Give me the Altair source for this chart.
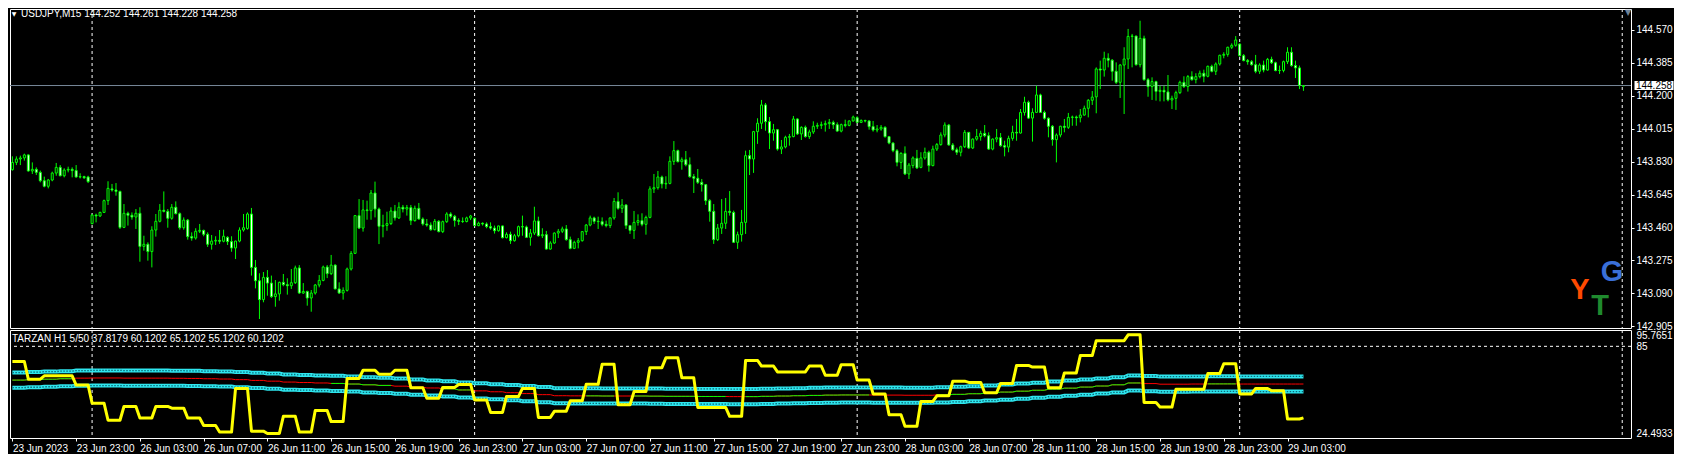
import altair as alt
import pandas as pd

# ---------------- data (USDJPY M15, bar 1 = 23 Jun 19:00) ----------------
OPEN = [
143.785, 143.826, 143.845, 143.851, 143.868, 143.778, 143.787, 143.770, 143.723, 143.692,
143.727, 143.766, 143.798, 143.751, 143.783, 143.787, 143.780, 143.744, 143.746, 143.744,
143.482, 143.530, 143.525, 143.545, 143.611, 143.677, 143.671, 143.663, 143.461, 143.540,
143.529, 143.519, 143.540, 143.354, 143.366, 143.325, 143.446, 143.495, 143.557, 143.551,
143.512, 143.574, 143.538, 143.459, 143.502, 143.409, 143.401, 143.439, 143.444, 143.422,
143.366, 143.384, 143.388, 143.383, 143.405, 143.381, 143.345, 143.384, 143.446, 143.455,
143.536, 143.236, 143.161, 143.055, 143.180, 143.148, 143.072, 143.087, 143.152, 143.139,
143.133, 143.150, 143.233, 143.092, 143.101, 143.064, 143.092, 143.137, 143.163, 143.238,
143.201, 143.249, 143.115, 143.092, 143.107, 143.227, 143.315, 143.527, 143.457, 143.559,
143.555, 143.654, 143.564, 143.467, 143.472, 143.482, 143.553, 143.514, 143.574, 143.564,
143.572, 143.499, 143.568, 143.508, 143.480, 143.474, 143.448, 143.495, 143.437, 143.493,
143.536, 143.523, 143.500, 143.495, 143.494, 143.514, 143.512, 143.471, 143.484, 143.480,
143.465, 143.457, 143.442, 143.469, 143.403, 143.422, 143.386, 143.414, 143.465, 143.463,
143.405, 143.429, 143.497, 143.414, 143.420, 143.339, 143.373, 143.429, 143.439, 143.452,
143.392, 143.343, 143.377, 143.386, 143.437, 143.474, 143.514, 143.495, 143.493, 143.478,
143.471, 143.514, 143.607, 143.568, 143.587, 143.471, 143.444, 143.489, 143.499, 143.478,
143.517, 143.677, 143.684, 143.744, 143.705, 143.708, 143.832, 143.892, 143.830, 143.841,
143.813, 143.746, 143.737, 143.714, 143.701, 143.611, 143.551, 143.392, 143.457, 143.484,
143.551, 143.545, 143.377, 143.420, 143.489, 143.864, 143.845, 143.999, 144.046, 144.149,
144.055, 143.991, 144.010, 143.901, 143.913, 143.967, 143.971, 144.070, 143.986, 144.023,
143.971, 143.997, 144.029, 144.034, 144.038, 144.044, 144.051, 144.038, 144.002, 144.038,
144.034, 144.059, 144.077, 144.051, 144.061, 144.059, 144.027, 144.008, 144.014, 144.023,
143.971, 143.935, 143.892, 143.826, 143.877, 143.761, 143.808, 143.849, 143.798, 143.851,
143.883, 143.808, 143.901, 143.926, 143.980, 144.036, 143.924, 143.897, 143.883, 143.914,
143.995, 143.907, 143.957, 143.971, 143.989, 143.976, 143.901, 143.957, 143.965, 143.920,
143.912, 143.961, 143.995, 143.991, 144.107, 144.164, 144.075, 144.107, 144.205, 144.107,
144.074, 144.029, 143.954, 143.980, 144.029, 144.023, 144.079, 144.081, 144.077, 144.092,
144.130, 144.175, 144.194, 144.351, 144.345, 144.411, 144.400, 144.338, 144.276, 144.373,
144.407, 144.534, 144.536, 144.375, 144.523, 144.291, 144.252, 144.280, 144.225, 144.231,
144.222, 144.177, 144.186, 144.218, 144.276, 144.252, 144.308, 144.291, 144.308, 144.327,
144.310, 144.366, 144.338, 144.379, 144.428, 144.433, 144.473, 144.484, 144.491, 144.426,
144.398, 144.392, 144.375, 144.338, 144.373, 144.345, 144.405, 144.386, 144.342, 144.343,
144.392, 144.445, 144.370, 144.357, 144.252,
]
HIGH = [
143.860, 143.860, 143.864, 143.875, 143.871, 143.826, 143.798, 143.780, 143.746, 143.733,
143.774, 143.823, 143.811, 143.793, 143.802, 143.798, 143.811, 143.765, 143.751, 143.751,
143.536, 143.538, 143.549, 143.617, 143.720, 143.705, 143.710, 143.667, 143.592, 143.549,
143.545, 143.564, 143.574, 143.414, 143.377, 143.467, 143.536, 143.592, 143.663, 143.564,
143.592, 143.607, 143.545, 143.517, 143.508, 143.433, 143.456, 143.480, 143.448, 143.433,
143.418, 143.411, 143.446, 143.448, 143.411, 143.411, 143.386, 143.461, 143.536, 143.545,
143.570, 143.278, 143.203, 143.210, 143.221, 143.190, 143.165, 143.156, 143.199, 143.175,
143.227, 143.246, 143.249, 143.148, 143.105, 143.109, 143.143, 143.193, 143.246, 143.249,
143.306, 143.253, 143.152, 143.124, 143.235, 143.328, 143.530, 143.620, 143.615, 143.611,
143.671, 143.718, 143.572, 143.532, 143.549, 143.574, 143.587, 143.602, 143.587, 143.587,
143.587, 143.583, 143.598, 143.517, 143.508, 143.489, 143.508, 143.502, 143.499, 143.546,
143.546, 143.531, 143.512, 143.517, 143.521, 143.531, 143.517, 143.493, 143.489, 143.489,
143.489, 143.471, 143.471, 143.471, 143.433, 143.437, 143.424, 143.471, 143.527, 143.471,
143.452, 143.577, 143.521, 143.456, 143.441, 143.383, 143.433, 143.452, 143.465, 143.474,
143.409, 143.386, 143.401, 143.439, 143.480, 143.527, 143.521, 143.521, 143.517, 143.499,
143.517, 143.626, 143.658, 143.620, 143.590, 143.474, 143.553, 143.534, 143.540, 143.527,
143.692, 143.761, 143.778, 143.752, 143.748, 143.860, 143.946, 143.898, 143.854, 143.890,
143.854, 143.761, 143.789, 143.733, 143.705, 143.620, 143.592, 143.480, 143.620, 143.626,
143.665, 143.555, 143.437, 143.559, 143.892, 143.896, 144.003, 144.074, 144.177, 144.160,
144.081, 144.042, 144.014, 143.952, 143.976, 143.986, 144.087, 144.074, 144.029, 144.033,
144.010, 144.057, 144.049, 144.055, 144.061, 144.070, 144.061, 144.051, 144.044, 144.066,
144.062, 144.089, 144.085, 144.068, 144.066, 144.062, 144.059, 144.036, 144.036, 144.029,
143.971, 143.939, 143.901, 143.883, 143.916, 143.823, 143.860, 143.896, 143.883, 143.909,
143.892, 143.920, 143.935, 143.995, 144.051, 144.042, 143.935, 143.909, 143.920, 144.008,
143.995, 143.961, 144.014, 144.004, 144.036, 143.995, 143.961, 144.014, 143.991, 143.948,
143.976, 144.032, 144.070, 144.126, 144.195, 144.173, 144.130, 144.257, 144.212, 144.117,
144.079, 144.036, 143.989, 144.032, 144.070, 144.104, 144.089, 144.089, 144.126, 144.145,
144.182, 144.227, 144.360, 144.398, 144.448, 144.439, 144.407, 144.388, 144.379, 144.473,
144.576, 144.548, 144.538, 144.622, 144.538, 144.300, 144.304, 144.285, 144.257, 144.257,
144.317, 144.201, 144.229, 144.285, 144.310, 144.317, 144.338, 144.327, 144.342, 144.347,
144.370, 144.375, 144.388, 144.431, 144.445, 144.476, 144.495, 144.536, 144.495, 144.435,
144.407, 144.401, 144.430, 144.383, 144.398, 144.413, 144.420, 144.392, 144.370, 144.398,
144.473, 144.473, 144.398, 144.370, 144.261,
]
LOW = [
143.780, 143.811, 143.811, 143.836, 143.774, 143.761, 143.755, 143.714, 143.686, 143.680,
143.720, 143.751, 143.748, 143.742, 143.770, 143.742, 143.740, 143.736, 143.733, 143.710,
143.478, 143.489, 143.519, 143.542, 143.587, 143.662, 143.639, 143.452, 143.457, 143.471,
143.504, 143.452, 143.268, 143.330, 143.274, 143.236, 143.409, 143.489, 143.545, 143.459,
143.504, 143.534, 143.448, 143.448, 143.392, 143.386, 143.392, 143.429, 143.411, 143.351,
143.336, 143.362, 143.368, 143.377, 143.362, 143.324, 143.283, 143.377, 143.437, 143.448,
143.190, 143.118, 142.946, 143.040, 143.077, 143.064, 143.015, 143.049, 143.130, 143.083,
143.115, 143.143, 143.087, 143.087, 143.021, 142.987, 143.083, 143.124, 143.158, 143.176,
143.193, 143.113, 143.087, 143.055, 143.100, 143.218, 143.311, 143.452, 143.437, 143.504,
143.504, 143.517, 143.367, 143.405, 143.442, 143.474, 143.499, 143.508, 143.545, 143.527,
143.474, 143.493, 143.504, 143.471, 143.465, 143.442, 143.444, 143.433, 143.429, 143.486,
143.512, 143.465, 143.474, 143.486, 143.489, 143.502, 143.467, 143.467, 143.471, 143.456,
143.448, 143.426, 143.437, 143.399, 143.399, 143.368, 143.381, 143.405, 143.414, 143.401,
143.358, 143.418, 143.409, 143.401, 143.336, 143.336, 143.368, 143.401, 143.429, 143.386,
143.338, 143.339, 143.343, 143.381, 143.418, 143.467, 143.480, 143.452, 143.467, 143.461,
143.457, 143.504, 143.560, 143.542, 143.452, 143.424, 143.396, 143.471, 143.467, 143.420,
143.512, 143.654, 143.673, 143.680, 143.677, 143.703, 143.812, 143.826, 143.785, 143.804,
143.740, 143.654, 143.705, 143.662, 143.587, 143.493, 143.368, 143.384, 143.424, 143.452,
143.527, 143.373, 143.340, 143.381, 143.424, 143.755, 143.767, 143.930, 144.014, 144.004,
143.901, 143.948, 143.892, 143.873, 143.905, 143.920, 143.967, 143.980, 143.952, 143.965,
143.958, 143.986, 144.014, 144.014, 143.999, 144.014, 144.014, 143.999, 143.995, 144.023,
144.029, 144.055, 144.047, 144.047, 144.051, 144.010, 143.999, 143.995, 144.004, 143.965,
143.928, 143.883, 143.804, 143.789, 143.755, 143.733, 143.793, 143.789, 143.793, 143.841,
143.774, 143.804, 143.890, 143.920, 143.967, 143.920, 143.892, 143.868, 143.860, 143.907,
143.901, 143.901, 143.948, 143.948, 143.967, 143.896, 143.894, 143.939, 143.914, 143.860,
143.883, 143.948, 143.948, 143.988, 144.089, 144.070, 143.943, 144.104, 144.104, 144.066,
143.967, 143.920, 143.826, 143.967, 143.995, 144.014, 144.032, 144.032, 144.051, 144.089,
144.079, 144.149, 144.102, 144.238, 144.308, 144.360, 144.285, 144.267, 144.188, 144.098,
144.351, 144.360, 144.370, 144.360, 144.285, 144.195, 144.177, 144.173, 144.169, 144.169,
144.169, 144.126, 144.121, 144.210, 144.244, 144.224, 144.285, 144.270, 144.298, 144.276,
144.304, 144.332, 144.317, 144.370, 144.411, 144.420, 144.463, 144.476, 144.420, 144.394,
144.375, 144.370, 144.327, 144.323, 144.332, 144.342, 144.379, 144.338, 144.323, 144.332,
144.379, 144.364, 144.300, 144.238, 144.228,
]
CLOSE = [
143.826, 143.845, 143.851, 143.868, 143.778, 143.787, 143.770, 143.723, 143.692, 143.727,
143.766, 143.798, 143.751, 143.783, 143.787, 143.780, 143.744, 143.746, 143.740, 143.718,
143.530, 143.525, 143.545, 143.611, 143.680, 143.671, 143.663, 143.461, 143.540, 143.529,
143.519, 143.540, 143.354, 143.366, 143.325, 143.446, 143.495, 143.557, 143.551, 143.512,
143.574, 143.538, 143.459, 143.502, 143.409, 143.401, 143.439, 143.444, 143.422, 143.366,
143.384, 143.388, 143.383, 143.411, 143.381, 143.345, 143.384, 143.446, 143.459, 143.536,
143.236, 143.161, 143.055, 143.180, 143.148, 143.072, 143.087, 143.152, 143.139, 143.133,
143.150, 143.233, 143.092, 143.101, 143.064, 143.092, 143.137, 143.163, 143.238, 143.201,
143.249, 143.115, 143.092, 143.107, 143.227, 143.315, 143.527, 143.457, 143.559, 143.555,
143.654, 143.564, 143.467, 143.472, 143.482, 143.553, 143.514, 143.574, 143.564, 143.572,
143.499, 143.568, 143.508, 143.480, 143.474, 143.448, 143.495, 143.437, 143.493, 143.536,
143.523, 143.500, 143.495, 143.494, 143.514, 143.525, 143.471, 143.484, 143.480, 143.465,
143.457, 143.442, 143.469, 143.403, 143.422, 143.386, 143.414, 143.465, 143.463, 143.405,
143.429, 143.497, 143.414, 143.420, 143.339, 143.373, 143.429, 143.439, 143.452, 143.392,
143.343, 143.377, 143.386, 143.437, 143.474, 143.514, 143.495, 143.493, 143.478, 143.471,
143.514, 143.607, 143.568, 143.587, 143.471, 143.444, 143.489, 143.499, 143.478, 143.517,
143.677, 143.684, 143.744, 143.705, 143.708, 143.832, 143.892, 143.830, 143.841, 143.813,
143.746, 143.737, 143.714, 143.701, 143.611, 143.551, 143.392, 143.457, 143.484, 143.551,
143.545, 143.377, 143.420, 143.489, 143.864, 143.845, 143.999, 144.046, 144.149, 144.055,
143.991, 144.010, 143.901, 143.913, 143.967, 143.971, 144.070, 143.986, 144.023, 143.971,
143.997, 144.029, 144.034, 144.038, 144.044, 144.051, 144.038, 144.002, 144.038, 144.034,
144.059, 144.081, 144.051, 144.061, 144.059, 144.027, 144.008, 144.014, 144.023, 143.971,
143.935, 143.892, 143.826, 143.877, 143.761, 143.811, 143.851, 143.795, 143.851, 143.883,
143.808, 143.901, 143.926, 143.980, 144.036, 143.924, 143.897, 143.883, 143.914, 143.995,
143.907, 143.957, 143.971, 143.989, 143.976, 143.901, 143.957, 143.965, 143.920, 143.912,
143.961, 143.995, 143.991, 144.107, 144.164, 144.075, 144.107, 144.205, 144.107, 144.074,
144.029, 143.954, 143.980, 144.029, 144.023, 144.079, 144.081, 144.077, 144.092, 144.130,
144.175, 144.193, 144.351, 144.345, 144.411, 144.400, 144.338, 144.276, 144.373, 144.407,
144.534, 144.536, 144.375, 144.523, 144.291, 144.252, 144.280, 144.225, 144.231, 144.222,
144.177, 144.186, 144.218, 144.276, 144.252, 144.308, 144.291, 144.308, 144.327, 144.310,
144.366, 144.338, 144.379, 144.428, 144.433, 144.473, 144.484, 144.514, 144.426, 144.398,
144.392, 144.375, 144.338, 144.373, 144.345, 144.405, 144.386, 144.342, 144.343, 144.392,
144.445, 144.370, 144.357, 144.259, 144.258,
]

# TARZAN H1 indicator, one value per H1 bar (hour 0 = 23 Jun 19:00)
YELLOW_H1 = [
75.0, 63.3, 65.5, 65.5, 59.4, 47.5, 36.2, 45.3, 37.7, 45.3,
44.2, 37.7, 32.7, 28.4, 57.2, 29.0, 27.5, 38.8, 28.4, 42.7,
35.3, 63.8, 69.2, 66.6, 69.2, 57.7, 50.7, 57.9, 59.8, 49.6,
41.4, 51.8, 57.2, 38.1, 42.1, 49.0, 59.9, 73.1, 46.4, 55.1,
70.9, 77.4, 64.2, 44.7, 44.7, 38.8, 75.7, 72.0, 68.1, 68.1,
72.0, 65.9, 72.9, 62.7, 53.6, 39.9, 32.3, 48.6, 52.3, 62.0,
61.2, 54.4, 60.5, 72.4, 71.3, 57.7, 67.4, 78.9, 88.7, 88.7,
92.6, 47.9, 44.9, 56.6, 56.6, 67.0, 73.5, 53.6, 57.2, 55.7,
37.0, 37.8179,
]
MID_H1 = [
62.7, 63.0, 63.3, 63.6, 64.0, 64.1, 64.1, 64.0, 64.0, 64.0,
63.9, 63.8, 63.6, 63.4, 63.0, 62.5, 62.0, 61.4, 61.1, 60.8,
60.5, 60.1, 59.6, 59.2, 58.7, 58.1, 57.5, 56.9, 56.2, 55.6,
55.0, 54.4, 53.8, 53.1, 52.4, 52.3, 52.3, 52.2, 52.2, 52.2,
52.1, 52.0, 52.0, 51.9, 51.9, 51.8, 51.8, 52.0, 52.2, 52.4,
52.6, 52.8, 52.9, 52.9, 52.8, 52.8, 52.7, 52.7, 53.0, 53.3,
53.7, 54.2, 54.8, 55.4, 56.0, 56.7, 57.4, 58.1, 58.8, 59.6,
60.8, 60.4, 60.0, 60.0, 60.1, 60.2, 60.2, 60.1, 60.1, 60.1,
60.1, 60.1202,
]
UPPER_H1 = [
67.7, 68.0, 68.3, 68.6, 69.0, 69.1, 69.1, 69.0, 69.0, 69.0,
68.9, 68.8, 68.6, 68.4, 68.0, 67.5, 67.0, 66.4, 66.1, 65.8,
65.5, 65.1, 64.6, 64.2, 63.7, 63.1, 62.5, 61.9, 61.2, 60.6,
60.0, 59.4, 58.8, 58.1, 57.4, 57.3, 57.3, 57.2, 57.2, 57.2,
57.1, 57.0, 57.0, 56.9, 56.9, 56.8, 56.8, 57.0, 57.2, 57.4,
57.6, 57.8, 57.9, 57.9, 57.8, 57.8, 57.7, 57.7, 58.0, 58.3,
58.7, 59.2, 59.8, 60.4, 61.0, 61.7, 62.4, 63.1, 63.8, 64.6,
65.8, 65.4, 65.0, 65.0, 65.1, 65.2, 65.2, 65.1, 65.1, 65.1,
65.1, 65.1202,
]
LOWER_H1 = [
57.7, 58.0, 58.3, 58.6, 59.0, 59.1, 59.1, 59.0, 59.0, 59.0,
58.9, 58.8, 58.6, 58.4, 58.0, 57.5, 57.0, 56.4, 56.1, 55.8,
55.5, 55.1, 54.6, 54.2, 53.7, 53.1, 52.5, 51.9, 51.2, 50.6,
50.0, 49.4, 48.8, 48.1, 47.4, 47.3, 47.3, 47.2, 47.2, 47.2,
47.1, 47.0, 47.0, 46.9, 46.9, 46.8, 46.8, 47.0, 47.2, 47.4,
47.6, 47.8, 47.9, 47.9, 47.8, 47.8, 47.7, 47.7, 48.0, 48.3,
48.7, 49.2, 49.8, 50.4, 51.0, 51.7, 52.4, 53.1, 53.8, 54.6,
55.8, 55.4, 55.0, 55.0, 55.1, 55.2, 55.2, 55.1, 55.1, 55.1,
55.1, 55.1202,
]
# colour of the middle line per H1 bar: g = green, r = red
MID_COLOR_H1 = list(
    "gggg" "rrrrrrrrrrrrrrrr" "gggg" "rrr" "gg" "rrrrrrr" "gg" "r" "gggggg" "r"
    "gggggggg" "rrrr" "ggggggggggggg" "rrrr" "gg" "rrrrr"
)

TIME_LABELS = [
    "23 Jun 2023", "23 Jun 23:00", "26 Jun 03:00", "26 Jun 07:00", "26 Jun 11:00",
    "26 Jun 15:00", "26 Jun 19:00", "26 Jun 23:00", "27 Jun 03:00", "27 Jun 07:00",
    "27 Jun 11:00", "27 Jun 15:00", "27 Jun 19:00", "27 Jun 23:00", "28 Jun 03:00",
    "28 Jun 07:00", "28 Jun 11:00", "28 Jun 15:00", "28 Jun 19:00", "28 Jun 23:00",
    "29 Jun 03:00",
]
DAY_START_BARS = [21, 117, 213, 309, 405]   # 26, 27, 28, 29, 30 Jun 00:00
PRICE_TICKS = [144.570, 144.385, 144.200, 144.015, 143.830, 143.645, 143.460, 143.275, 143.090, 142.905]
IND_TICKS = [95.7651, 85, 24.4933]
LEVEL = 85
HEADER = "USDJPY,M15  144.252 144.261 144.228 144.258"
IND_HEADER = "TARZAN H1 5/50 37.8179 60.1202 65.1202 55.1202 60.1202"
BARS_PER_HOUR = 4
BARS_PER_LABEL = 16

# ---------------- build tables ----------------
FONT = "Liberation Sans"
FS = 10
CANDLE = "#00ff00"
W, H_MAIN, H_IND = 1621, 319, 108

n = len(CLOSE)
bars = list(range(1, n + 1))
candles = pd.DataFrame({"k": bars, "o": OPEN, "h": HIGH, "l": LOW, "c": CLOSE})

hour_of_bar = [(k - 1) // BARS_PER_HOUR for k in bars]
ind = pd.DataFrame({
    "k": bars,
    "yel": [YELLOW_H1[h] for h in hour_of_bar],
    "mid": [MID_H1[h] for h in hour_of_bar],
    "up": [UPPER_H1[h] for h in hour_of_bar],
    "lo": [LOWER_H1[h] for h in hour_of_bar],
    "t": [MID_COLOR_H1[h] for h in hour_of_bar],
})
seg, segs, prev = 0, [], None
for t in ind["t"]:
    if t != prev:
        seg += 1
        prev = t
    segs.append(seg)
ind["seg"] = segs

TICK_BARS = [1 + BARS_PER_LABEL * j for j in range(len(TIME_LABELS))]
label_expr = ("[" + ",".join("'%s'" % s for s in TIME_LABELS) + "][indexof(["
              + ",".join(str(v) for v in TICK_BARS) + "], datum.value)]")

xs = alt.Scale(domain=[0.4, 407.2], nice=False, zero=False, padding=0)
ys = alt.Scale(domain=[142.8955, 144.688], nice=False, zero=False, padding=0)
iys = alt.Scale(domain=[IND_TICKS[-1], IND_TICKS[0]], nice=False, zero=False, padding=0)

price_axis = alt.Axis(orient="right", values=PRICE_TICKS, format=".3f", tickSize=3,
                      tickColor="white", labelPadding=2, domain=False, grid=False, title=None,
                      labelColor="white", labelFont=FONT, labelFontSize=FS)
time_axis = alt.Axis(values=TICK_BARS, labelExpr=label_expr, tickSize=3, tickColor="white",
                     domain=False, grid=False, title=None, labelAlign="left",
                     labelBaseline="top", labelPadding=2, labelFlush=False,
                     labelOverlap=False, labelColor="white", labelFont=FONT, labelFontSize=FS)
ind_axis = alt.Axis(orient="right", values=IND_TICKS,
                    labelExpr="datum.value == 85 ? '85' : format(datum.value, '.4f')",
                    ticks=False, domain=False, grid=False, title=None, labelPadding=5,
                    labelFlush=True, labelColor="white", labelFont=FONT, labelFontSize=FS)

XM = alt.X("k:Q", scale=xs, axis=None)            # main panel: no x axis
XI = alt.X("k:Q", scale=xs, axis=time_axis)       # indicator panel: time axis
def YM(f):
    return alt.Y(f, scale=ys, axis=price_axis)
def YI(f):
    return alt.Y(f, scale=iys, axis=ind_axis)

# ---------------- main price panel ----------------
day_df = pd.DataFrame({"k": DAY_START_BARS})
grid_m = alt.Chart(day_df).mark_rule(color="white", strokeDash=[3, 3], strokeWidth=1).encode(x=XM)

wicks = alt.Chart(candles).mark_rule(color=CANDLE, strokeWidth=1).encode(
    x=XM, y=YM("l:Q"), y2="h:Q")
bodies = alt.Chart(candles).mark_bar(size=2, stroke=CANDLE, strokeWidth=1).encode(
    x=XM, y=YM("o:Q"), y2="c:Q",
    fill=alt.condition("datum.c < datum.o", alt.value("white"), alt.value("black")))

bid_df = pd.DataFrame({"p": [CLOSE[-1]], "label": [f"{CLOSE[-1]:.3f}"]})
bid_line = alt.Chart(bid_df).mark_rule(color="#778899", strokeWidth=1).encode(y=YM("p:Q"))
bid_box = alt.Chart(bid_df).mark_point(
    shape="M-1,-0.23L1,-0.23L1,0.23L-1,0.23Z", size=1521, filled=True, color="white",
    opacity=1).encode(x=alt.value(1644), y=YM("p:Q"))
bid_txt = alt.Chart(bid_df).mark_text(color="black", font=FONT, fontSize=FS, align="center",
                                      baseline="middle").encode(
    x=alt.value(1644), y=YM("p:Q"), text="label:N")

hdr_df = pd.DataFrame({"t": [HEADER]})
hdr = alt.Chart(hdr_df).mark_text(color="white", font=FONT, fontSize=FS, align="left",
                                  baseline="middle", x=11, y=5).encode(text="t:N")
tri = alt.Chart(hdr_df).mark_text(text="▼", font="DejaVu Sans", fontSize=6, color="white",
                                  align="center", baseline="middle", x=4, y=5)
shift_tri = alt.Chart(hdr_df).mark_text(text="▼", font="DejaVu Sans", fontSize=8,
                                        color="#6f8399", align="center", baseline="middle",
                                        x=1618, y=4)
logo_y = alt.Chart(hdr_df).mark_text(text="Y", color="#ff4a00", font=FONT, fontWeight="bold",
                                     fontSize=29, align="center", baseline="alphabetic",
                                     x=1570, y=290)
logo_g = alt.Chart(hdr_df).mark_text(text="G", color="#3a6fd8", font=FONT, fontWeight="bold",
                                     fontSize=29, align="center", baseline="alphabetic",
                                     x=1602, y=272)
logo_t = alt.Chart(hdr_df).mark_text(text="T", color="#1f8a2e", font=FONT, fontWeight="bold",
                                     fontSize=29, align="center", baseline="alphabetic",
                                     x=1590, y=306)

main = alt.layer(grid_m, bid_line, wicks, bodies, hdr, tri, shift_tri,
                 logo_y, logo_t, logo_g, bid_box, bid_txt).properties(width=W, height=H_MAIN)

# ---------------- indicator panel ----------------
grid_i = alt.Chart(day_df).mark_rule(color="white", strokeDash=[3, 3], strokeWidth=1).encode(x=XI)
level = alt.Chart(pd.DataFrame({"v": [LEVEL]})).mark_rule(
    color="white", strokeDash=[3, 3], strokeWidth=1).encode(y=YI("v:Q"))

def band(field):
    base = alt.Chart(ind).mark_line(color="#2ee6ee", strokeWidth=4).encode(x=XI, y=YI(f"{field}:Q"))
    tex = alt.Chart(ind).mark_line(color="#0c6a78", strokeWidth=1.3, strokeDash=[1.5, 1.5]).encode(
        x=XI, y=YI(f"{field}:Q"))
    return [base, tex]

red = alt.Chart(ind).mark_line(color="#ff0000", strokeWidth=1).encode(x=XI, y=YI("mid:Q"))
green = alt.Chart(ind).transform_filter("datum.t == 'g'").mark_line(
    color="#00ff00", strokeWidth=1).encode(x=XI, y=YI("mid:Q"), detail="seg:N")
yellow = alt.Chart(ind).mark_line(color="#ffff00", strokeWidth=3, strokeJoin="round").encode(
    x=XI, y=YI("yel:Q"))
ind_hdr = alt.Chart(pd.DataFrame({"t": [IND_HEADER]})).mark_text(
    color="white", font=FONT, fontSize=FS, align="left", baseline="middle", x=2, y=9).encode(
    text="t:N")

ind_chart = alt.layer(grid_i, level, *band("up"), *band("lo"), red, green, yellow, ind_hdr).properties(
    width=W, height=H_IND)

chart = alt.vconcat(main, ind_chart, spacing=2, bounds="flush").resolve_scale(
    x="independent", y="independent").properties(
    padding={"left": -5, "top": 0, "right": 0, "bottom": 0}, background="black"
).configure_view(stroke="white", strokeWidth=1)

chart.save("out.html", embed_options={"renderer": "svg", "actions": False})
